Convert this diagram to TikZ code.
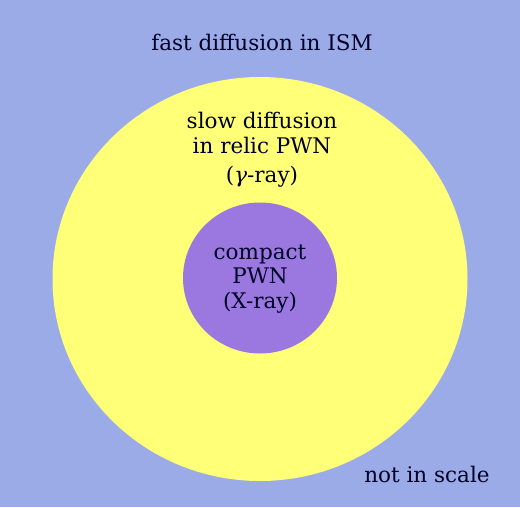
\documentclass[tikz,border=0pt]{standalone}
\usepackage{fontspec}
\setmainfont{DejaVu Serif}
\usetikzlibrary{positioning}
\definecolor{ismblue}{HTML}{9AABE8}
\definecolor{relicyellow}{HTML}{FFFF78}
\definecolor{pwnpurple}{HTML}{9B78E0}
\tikzset{zone/.style={draw=none, fill=#1}}
\tikzset{lbl/.style={font=\fontsize{21.5}{24.5}\selectfont, inner sep=0pt, align=center, text=black!85!blue}}

\begin{document}
\begin{tikzpicture}[x=1pt, y=-1pt]
			\useasboundingbox[fill=ismblue] (0,0) rectangle (520,507);
			\fill[zone=relicyellow] (260,279) ellipse [x radius=207.5, y radius=202];
			\fill[zone=pwnpurple] (260,278) ellipse [x radius=77, y radius=75.5];
			%
			\node[lbl, anchor=base] (ism) at (262,50) {fast diffusion in ISM};
			\node[lbl, anchor=base] (relic) at (262,153) {slow diffusion\\in relic PWN};
			\node[lbl, anchor=base] (gamma) at (262,182) {({\itshape γ}-ray)};
			\node[lbl, anchor=base] (pwn) at (260,308) {compact\\PWN\\(X-ray)};
			\node[lbl, anchor=base] (scale) at (427,482) {not in scale};
		\end{tikzpicture}
\end{document}
